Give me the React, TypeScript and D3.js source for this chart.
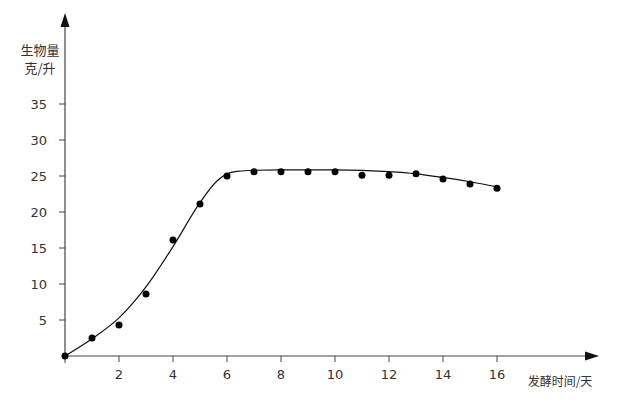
import React from "react";
import * as d3 from "d3";

const days = [0, 1, 2, 3, 4, 5, 6, 7, 8, 9, 10, 11, 12, 13, 14, 15, 16];
const biomass = [0, 2.5, 4.3, 8.6, 16.1, 21.1, 25.0, 25.6, 25.6, 25.6, 25.6, 25.1, 25.1, 25.3, 24.6, 23.9, 23.3];
const fitX = [0, 1, 2, 3, 4, 5, 5.6, 6, 6.4, 7, 8, 10, 12, 13, 14, 15, 16];
const fitY = [0, 2.4, 5.3, 9.6, 15.2, 21.3, 24.2, 25.3, 25.65, 25.8, 25.85, 25.85, 25.6, 25.3, 24.8, 24.2, 23.5];
const xTicks = [2, 4, 6, 8, 10, 12, 14, 16];
const yTicks = [5, 10, 15, 20, 25, 30, 35];
const yTitle = ["生物量", "克/升"];
const xTitle = "发酵时间/天";

export default function App() {
  const W = 626, H = 400;
  const x = d3.scaleLinear().domain([0, 16]).range([65, 497]);
  const y = d3.scaleLinear().domain([0, 35]).range([356, 104]);
  const line = d3.line<number>().x((d) => x(fitX[d])).y((d) => y(fitY[d])).curve(d3.curveMonotoneX);
  const idx = fitX.map((_, i) => i);
  const font = "'DejaVu Sans', sans-serif";
  const col = "#333";
  return (
    <svg width={W} height={H} style={{ position: "absolute", left: 0, top: 0, background: "#fff" }}>
      <rect width={W} height={H} fill="#fff" />
      {/* axes */}
      <line x1={x(0)} y1={y(0)} x2={x(0)} y2={22} stroke="#444" strokeWidth={1.2} />
      <path d={`M${x(0)},13 L${x(0) - 4.5},27 L${x(0) + 4.5},27 Z`} fill="#111" />
      <line x1={x(0)} y1={y(0)} x2={588} y2={y(0)} stroke="#444" strokeWidth={1.2} />
      <path d={`M599,${y(0)} L585,${y(0) - 4.5} L585,${y(0) + 4.5} Z`} fill="#111" />
      {yTicks.map((t) => (
        <g key={"y" + t}>
          <line x1={x(0) - 6} x2={x(0)} y1={y(t)} y2={y(t)} stroke="#444" />
          <text x={47} y={y(t)} dy="0.35em" textAnchor="end" fontSize={13} fontFamily={font} fill={col}>{t}</text>
        </g>
      ))}
      <line x1={x(0)} x2={x(0)} y1={y(0)} y2={y(0) + 7} stroke="#444" />
      {xTicks.map((t) => (
        <g key={"x" + t}>
          <line x1={x(t)} x2={x(t)} y1={y(0)} y2={y(0) + 6} stroke="#444" />
          <text x={x(t)} y={379} textAnchor="middle" fontSize={13} fontFamily={font} fill={col}>{t}</text>
        </g>
      ))}
      {yTitle.map((s, i) => (
        <text key={s} x={40} y={55 + i * 18} textAnchor="middle" fontSize={13} fontFamily="'Noto Sans CJK SC', sans-serif" fill={col}>{s}</text>
      ))}
      <text x={560} y={386} textAnchor="middle" fontSize={12} fontFamily="'Noto Sans CJK SC', sans-serif" fill={col}>{xTitle}</text>
      <path d={line(idx) || ""} fill="none" stroke="#111" strokeWidth={1.2} />
      {days.map((d, i) => (
        <circle key={d} cx={x(d)} cy={y(biomass[i])} r={3.5} fill="#000" />
      ))}
    </svg>
  );
}
